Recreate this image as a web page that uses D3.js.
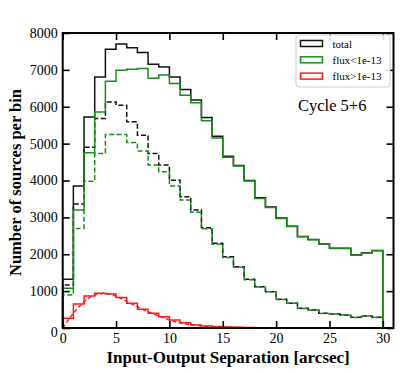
<!DOCTYPE html>
<html lang="en">
<head>
<meta charset="UTF-8">
<title>Input-Output Separation</title>
<script src="https://d3js.org/d3.v7.min.js"></script>
<style>
    body { margin: 0; background: #fff; }
    svg { display: block; font-family: "Liberation Serif", "DejaVu Serif", serif; }
</style>
</head>
<body>
<div id="chart"></div>
<script>
// histogram counts per 1 arcsec bin, 0-30
const binEdges = d3.range(0, 31);
const totalAll = [1320, 3850, 5720, 6810, 7560, 7700, 7600, 7470, 7150, 7080,
    6810, 6470, 6180, 5710, 5200, 4660, 4410, 4000, 3530, 3280,
    2980, 2760, 2480, 2400, 2280, 2160, 2160, 1980, 2040, 2100];
const faintAll = [1075, 3200, 4750, 5860, 6690, 6990, 7020, 7040, 6770, 6860,
    6630, 6310, 6110, 5620, 5150, 4630, 4390, 3985, 3515, 3270,
    2970, 2750, 2475, 2395, 2275, 2155, 2155, 1975, 2035, 2095];
const brightAll = [263, 650, 867, 940, 920, 830, 670, 507, 400, 306,
    217, 144, 81, 54, 40, 30, 20, 15, 8, 5,
    3, 2, 2, 1, 1, 1, 1, 0, 0, 0];
const totalSel = [1165, 3360, 4900, 5680, 6130, 6040, 5590, 5230, 4730, 4420,
    4010, 3560, 3200, 2720, 2295, 1930, 1660, 1320, 1120, 985,
    778, 670, 534, 488, 398, 380, 352, 290, 325, 290];
const faintSel = [895, 2700, 3980, 4730, 5250, 5250, 5030, 4800, 4420, 4240,
    3850, 3470, 3140, 2690, 2270, 1915, 1650, 1310, 1115, 980,
    775, 668, 532, 486, 396, 378, 350, 288, 323, 288];
// dashed red is drawn as a curve through the bin edges
const brightSel = [0, 400, 710, 895, 940, 860, 720, 580, 440, 330,
    220, 140, 90, 55, 35, 22, 14, 9, 5, 3,
    2, 1, 1, 1, 1, 0, 0, 0, 0, 0, 0];

const xTicks = [0, 5, 10, 15, 20, 25, 30];
const yTicks = [0, 1000, 2000, 3000, 4000, 5000, 6000, 7000, 8000];
const legendNames = ["total", "flux<1e-13", "flux>1e-13"];
const legendColors = ["#111", "#1a8c1a", "#ff1a1a"];

const W = 415, H = 374;
const margin = { top: 33, right: 21.5, bottom: 46, left: 62.7 };
const width = W - margin.left - margin.right,
    height = H - margin.top - margin.bottom;

const svg = d3.select("#chart").append("svg")
    .attr("width", W)
    .attr("height", H);

const g = svg.append("g")
    .attr("transform", `translate(${margin.left},${margin.top})`);

const x = d3.scaleLinear().domain([0, 31]).range([0, width]);
const y = d3.scaleLinear().domain([0, 8000]).range([height, 0]);

// step outline of a histogram
const stepLine = d3.line()
    .x(d => x(d[0]))
    .y(d => y(d[1]))
    .curve(d3.curveStepAfter);

function stepPoints(vals) {
    const pts = [[0, 0]];
    vals.forEach((v, i) => pts.push([binEdges[i], v]));
    pts.push([binEdges[vals.length], vals[vals.length - 1]]);
    pts.push([binEdges[vals.length], 0]);
    return pts;
}

const smoothLine = d3.line()
    .x((d, i) => x(binEdges[i]))
    .y(d => y(d))
    .curve(d3.curveMonotoneX);

const series = [
    { vals: totalAll, color: legendColors[0], dash: null },
    { vals: totalSel, color: legendColors[0], dash: "5,2.5" },
    { vals: faintAll, color: legendColors[1], dash: null },
    { vals: faintSel, color: legendColors[1], dash: "5,2.5" },
    { vals: brightAll, color: legendColors[2], dash: null }
];

series.forEach(s => {
    g.append("path")
        .attr("d", stepLine(stepPoints(s.vals)))
        .attr("fill", "none")
        .attr("stroke", s.color)
        .attr("stroke-width", 1.5)
        .attr("stroke-dasharray", s.dash);
});

g.append("path")
    .attr("d", smoothLine(brightSel))
    .attr("fill", "none")
    .attr("stroke", legendColors[2])
    .attr("stroke-width", 1.5)
    .attr("stroke-dasharray", "4,2.5");

// axes, ticks pointing inward
const tickLen = 7;
const fontTick = "14px";
const fmt = d3.format("d");

const xAxis = g.append("g")
    .attr("transform", `translate(0,${height})`)
    .call(d3.axisBottom(x).tickValues(xTicks).tickFormat(fmt).tickSizeInner(-tickLen).tickSizeOuter(0).tickPadding(5));
const xTop = g.append("g")
    .call(d3.axisTop(x).tickValues(xTicks).tickSizeInner(-tickLen).tickSizeOuter(0).tickFormat(""));
const yAxis = g.append("g")
    .call(d3.axisLeft(y).tickValues(yTicks).tickFormat(fmt).tickSizeInner(-tickLen).tickSizeOuter(0).tickPadding(5));
const yRight = g.append("g")
    .attr("transform", `translate(${width},0)`)
    .call(d3.axisRight(y).tickValues(yTicks).tickSizeInner(-tickLen).tickSizeOuter(0).tickFormat(""));

[xAxis, xTop, yAxis, yRight].forEach(a => {
    a.select(".domain").remove();
    a.selectAll(".tick line").attr("stroke", "#000").attr("stroke-width", 1.6);
    a.selectAll("text")
        .attr("fill", "#000")
        .style("font-family", "'Liberation Serif', serif")
        .style("font-size", fontTick);
});
yAxis.selectAll(".tick").filter(d => d === 0).select("text").attr("dy", "0.6em");

// frame
g.append("rect")
    .attr("width", width)
    .attr("height", height)
    .attr("fill", "none")
    .attr("stroke", "#000")
    .attr("stroke-width", 2);

// axis titles
svg.append("text")
    .attr("x", margin.left + width / 2)
    .attr("y", 362.5)
    .attr("text-anchor", "middle")
    .style("font-size", "17px")
    .style("font-weight", "bold")
    .text("Input-Output Separation [arcsec]");

svg.append("text")
    .attr("transform", `translate(21,${margin.top + height / 2 + 2}) rotate(-90)`)
    .attr("text-anchor", "middle")
    .style("font-size", "16.5px")
    .style("font-weight", "bold")
    .text("Number of sources per bin");

// legend
const legend = svg.append("g").attr("transform", "translate(296,35)");
legend.append("rect")
    .attr("width", 94)
    .attr("height", 52)
    .attr("rx", 3)
    .attr("fill", "#fff")
    .attr("fill-opacity", 0.85)
    .attr("stroke", "#d0d0d0")
    .attr("stroke-width", 1);

legendNames.forEach((name, i) => {
    const row = legend.append("g").attr("transform", `translate(0,${8.5 + i * 16.3})`);
    row.append("rect")
        .attr("x", 4.5)
        .attr("y", -3)
        .attr("width", 22)
        .attr("height", 6)
        .attr("fill", "none")
        .attr("stroke", legendColors[i])
        .attr("stroke-width", 1.5);
    row.append("text")
        .attr("x", 36.5)
        .attr("y", 4)
        .style("font-size", "11px")
        .text(name);
});

svg.append("text")
    .attr("x", 298)
    .attr("y", 110.5)
    .style("font-size", "16.5px")
    .text("Cycle 5+6");
</script>
</body>
</html>
